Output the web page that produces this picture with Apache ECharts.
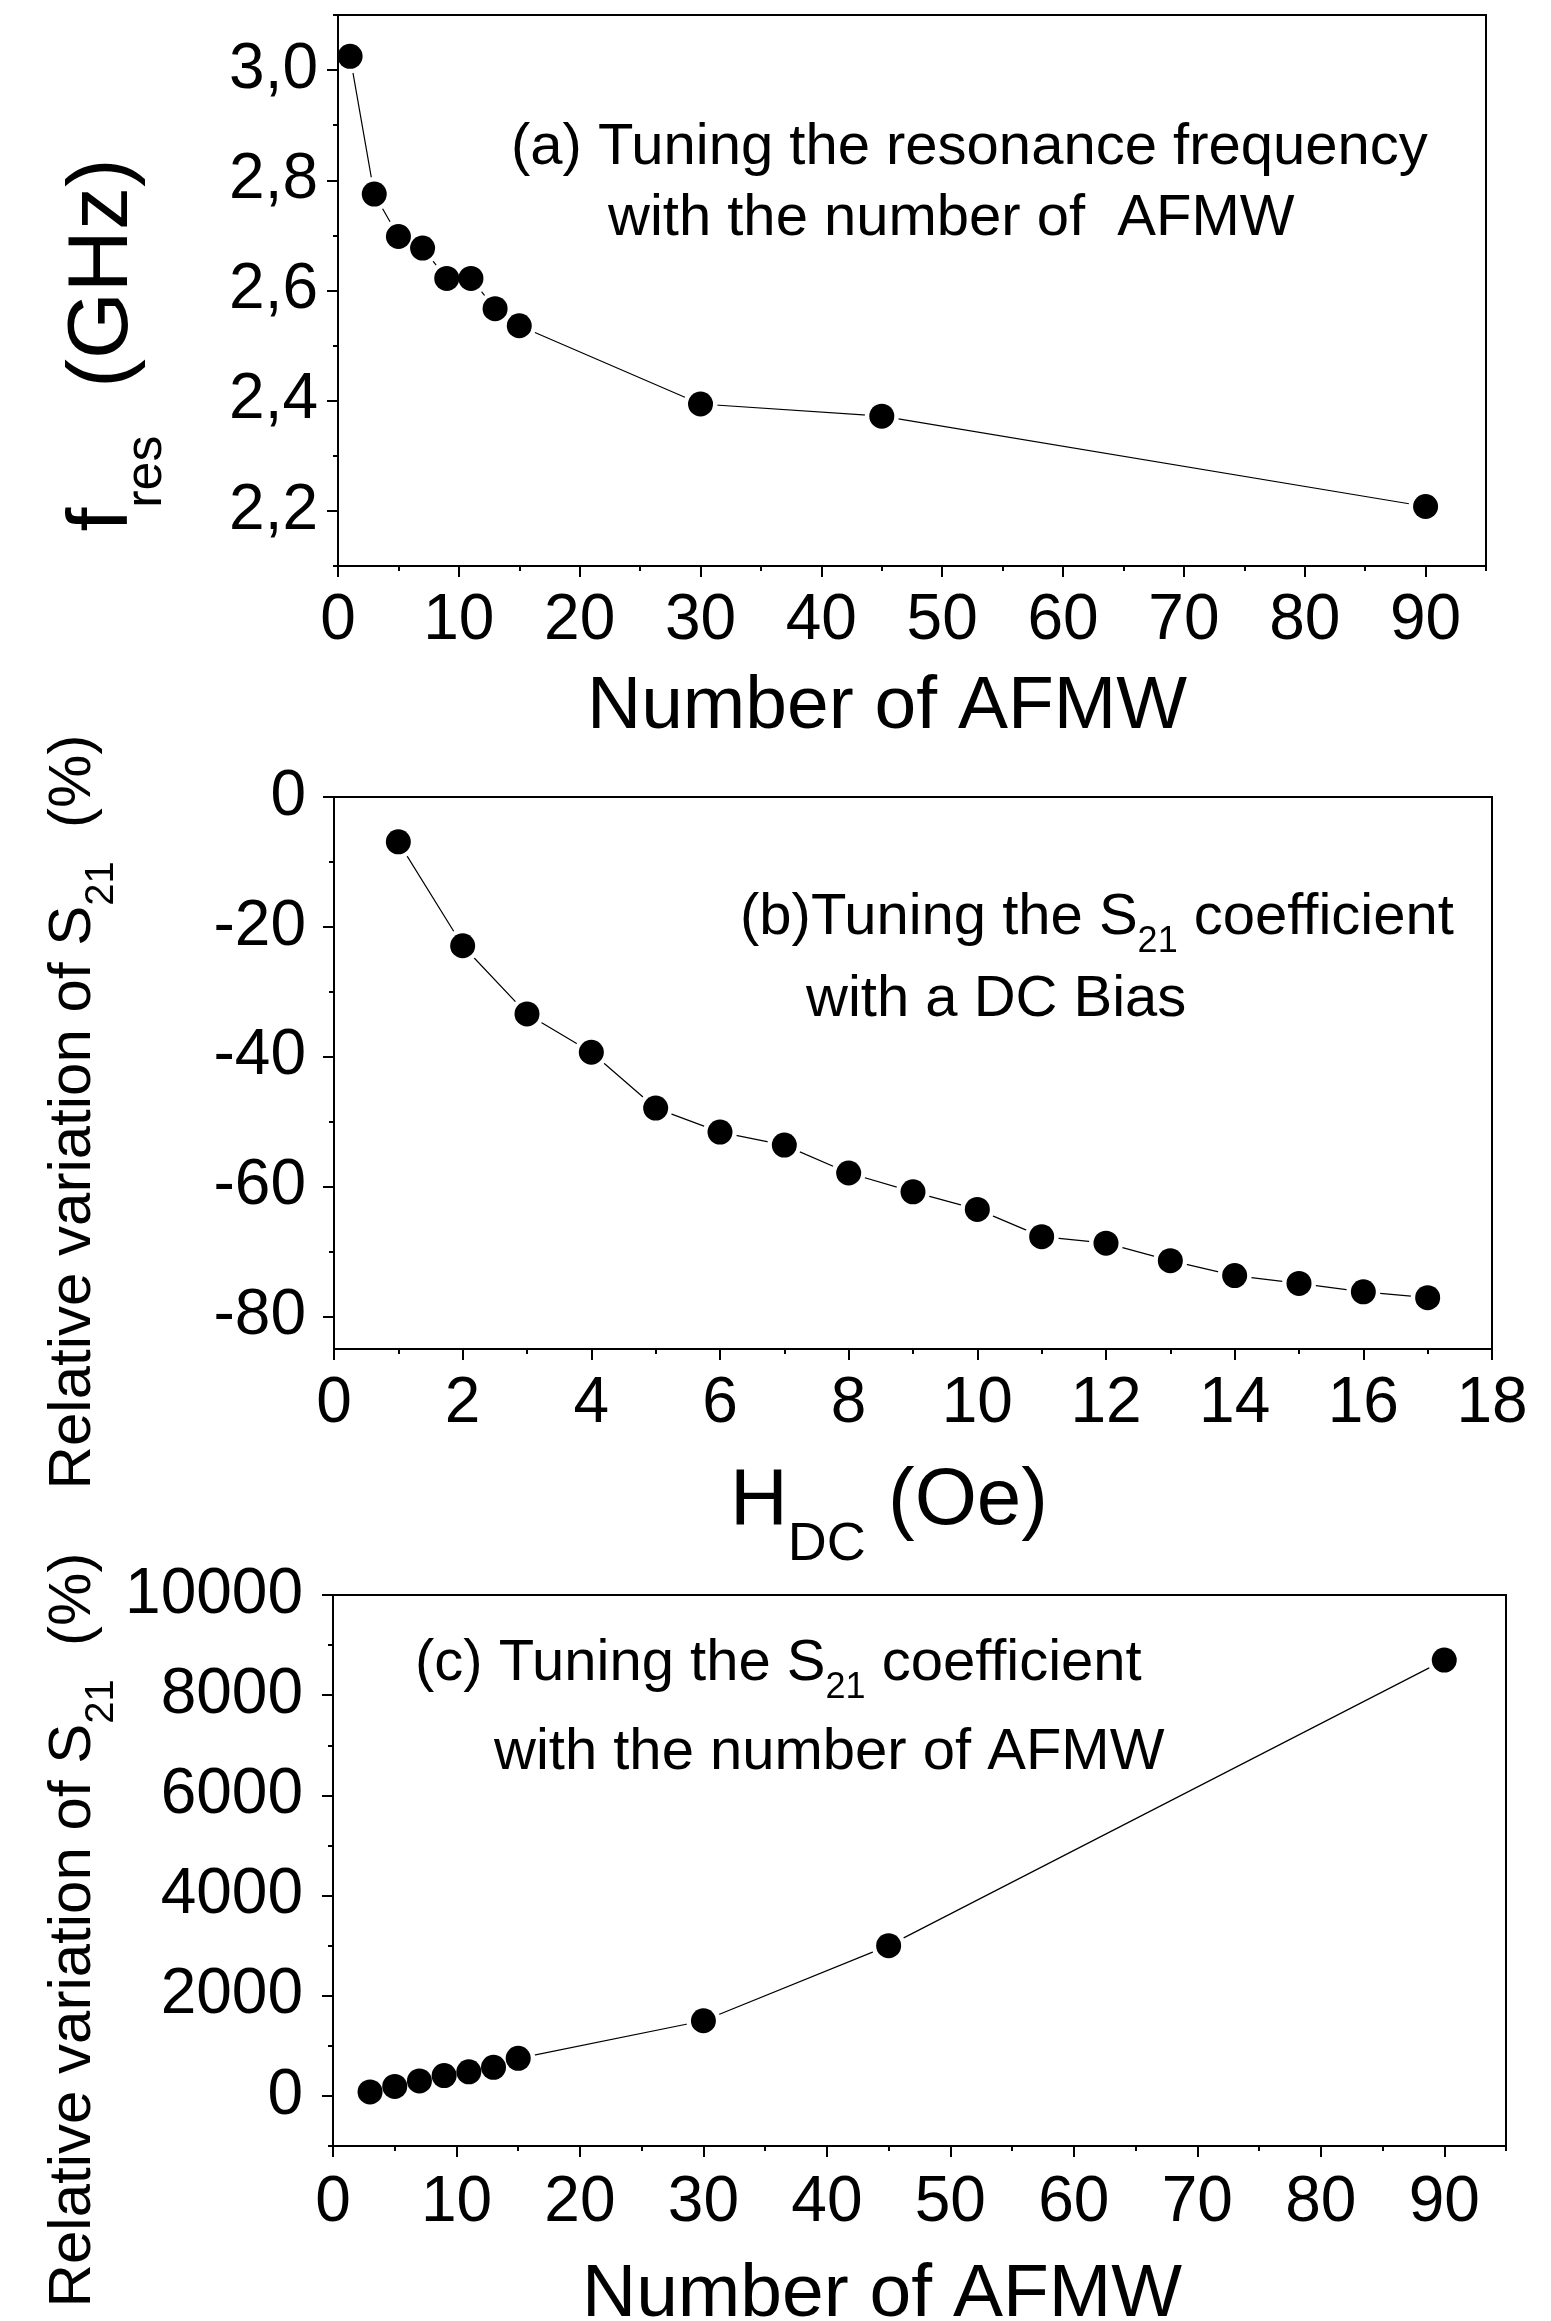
<!DOCTYPE html>
<html>
<head>
<meta charset="utf-8">
<script src="https://cdn.jsdelivr.net/npm/echarts@6/dist/echarts.min.js"></script>
<style>
  html, body { margin: 0; padding: 0; background: #fff; }
  #chart { width: 1551px; height: 2321px; }
</style>
</head>
<body>
<div id="chart"></div>
<script>
const FONT = "'Liberation Sans', Arial, sans-serif";

// (a) resonance frequency vs number of AFMW
const afmwA = [1, 3, 5, 7, 9, 11, 13, 15, 30, 45, 90];
const fresA = [3.025, 2.775, 2.698, 2.677, 2.622, 2.622, 2.567, 2.536, 2.394, 2.372, 2.208];
const fresTicks = [2.2, 2.4, 2.6, 2.8, 3.0];
const fresMinor = [2.1, 2.3, 2.5, 2.7, 2.9, 3.1];
const afmwTicks = [0, 10, 20, 30, 40, 50, 60, 70, 80, 90];
const afmwMinor = [5, 15, 25, 35, 45, 55, 65, 75, 85, 95];

// (b) S21 variation vs DC bias
const hdcB = [1, 2, 3, 4, 5, 6, 7, 8, 9, 10, 11, 12, 13, 14, 15, 16, 17];
const s21B = [-6.9, -22.9, -33.4, -39.3, -47.9, -51.6, -53.6, -57.9, -60.8, -63.5, -67.7, -68.7, -71.4, -73.7, -74.9, -76.2, -77.1];
const hdcTicks = [0, 2, 4, 6, 8, 10, 12, 14, 16, 18];
const hdcMinor = [1, 3, 5, 7, 9, 11, 13, 15, 17];
const s21BTicks = [0, -20, -40, -60, -80];
const s21BMinor = [-10, -30, -50, -70];

// (c) S21 variation vs number of AFMW
const afmwC = [3, 5, 7, 9, 11, 13, 15, 30, 45, 90];
const s21C = [80, 190, 300, 405, 480, 570, 750, 1500, 3000, 8700];
const s21CTicks = [0, 2000, 4000, 6000, 8000, 10000];
const s21CMinor = [-1000, 1000, 3000, 5000, 7000, 9000];

const black = "#000";

// main axis (line, long ticks, labels) + a second one only for the short ticks
function makeAxes(gridIndex, position, min, max, major, minor, formatter, margin) {
    return [
        {
            type: "value",
            gridIndex: gridIndex,
            position: position,
            min: min,
            max: max,
            z: 5,
            axisLine: { show: true, onZero: false, lineStyle: { color: black, width: 2 } },
            axisTick: { show: true, length: 11, customValues: major, lineStyle: { color: black, width: 2 } },
            axisLabel: {
                customValues: major,
                formatter: formatter,
                margin: margin,
                color: black,
                fontSize: 64,
                lineHeight: 64,
                fontFamily: FONT
            },
            splitLine: { show: false }
        },
        {
            type: "value",
            gridIndex: gridIndex,
            position: position,
            min: min,
            max: max,
            z: 5,
            axisLine: { show: false, onZero: false },
            axisTick: { show: true, length: 5, customValues: minor, lineStyle: { color: black, width: 2 } },
            axisLabel: { show: false },
            splitLine: { show: false }
        }
    ];
}

function plain(v) {
    return String(v);
}

function comma(v) {
    return v.toFixed(1).replace(".", ",");
}

// white circles under the markers leave a small gap between line and marker
function makeSeries(axisIndex, xs, ys) {
    const data = xs.map((x, i) => [x, ys[i]]);
    return [
        {
            type: "line",
            xAxisIndex: axisIndex,
            yAxisIndex: axisIndex,
            data: data,
            symbol: "circle",
            symbolSize: 34,
            itemStyle: { color: "#fff", borderWidth: 0, opacity: 1 },
            lineStyle: { color: black, width: 1.2 },
            emphasis: { disabled: true },
            silent: true,
            z: 2
        },
        {
            type: "scatter",
            xAxisIndex: axisIndex,
            yAxisIndex: axisIndex,
            data: data,
            symbol: "circle",
            symbolSize: 25,
            itemStyle: { color: black, opacity: 1 },
            emphasis: { disabled: true },
            silent: true,
            z: 3
        }
    ];
}

function richText(x, y, text, rich, opts) {
    const o = opts || {};
    return {
        type: "text",
        x: x,
        y: y,
        rotation: o.rotation || 0,
        silent: true,
        style: {
            text: text,
            rich: rich,
            fill: black,
            fontFamily: FONT,
            fontSize: o.fontSize || 58,
            align: o.align || "left",
            verticalAlign: "middle"
        }
    };
}

function subRich(mainSize, mainLh, subSize, subLh) {
    return {
        m: { fontSize: mainSize, lineHeight: mainLh, fontFamily: FONT, fill: black },
        s: { fontSize: subSize, lineHeight: subLh, fontFamily: FONT, fill: black, verticalAlign: "bottom" }
    };
}

const gridStyle = { show: true, borderColor: black, borderWidth: 2, backgroundColor: "transparent" };

const xAxes = [].concat(
    makeAxes(0, "bottom", 0, 95, afmwTicks, afmwMinor, plain, 23),
    makeAxes(1, "bottom", 0, 18, hdcTicks, hdcMinor, plain, 23),
    makeAxes(2, "bottom", 0, 95, afmwTicks, afmwMinor, plain, 25)
);
const yAxes = [].concat(
    makeAxes(0, "left", 2.1, 3.1, fresTicks, fresMinor, comma, 20),
    makeAxes(1, "left", -85, 0, s21BTicks, s21BMinor, plain, 28),
    makeAxes(2, "left", -1000, 10000, s21CTicks, s21CMinor, plain, 30)
);

const annRich = subRich(58, 84, 36, 36);
const titleRich = subRich(60, 98, 40, 40);

const graphics = [
    // panel (a)
    richText(511, 148, "{m|(a) Tuning the resonance frequency}", annRich),
    richText(608, 219, "{m|with the number of  AFMW}", annRich),
    richText(587, 707, "{m|Number of AFMW}", subRich(75, 75, 48, 48)),
    richText(103, 345, "{m|f}{s|res}{m|  (GHz)}", subRich(86, 140, 52, 52), { rotation: Math.PI / 2, align: "center" }),
    // panel (b)
    richText(740, 918, "{m|(b)Tuning the S}{s|21}{m| coefficient}", annRich),
    richText(806, 1000, "{m|with a DC Bias}", annRich),
    richText(730, 1502, "{m|H}{s|DC}{m| (Oe)}", subRich(80, 140, 54, 54)),
    richText(73, 1112, "{m|Relative variation of S}{s|21}{m|  (%)}", titleRich, { rotation: Math.PI / 2, align: "center" }),
    // panel (c)
    richText(415, 1664, "{m|(c) Tuning the S}{s|21}{m| coefficient}", annRich),
    richText(494, 1753, "{m|with the number of AFMW}", annRich),
    richText(582, 2295, "{m|Number of AFMW}", subRich(75, 75, 48, 48)),
    richText(73, 1930, "{m|Relative variation of S}{s|21}{m|  (%)}", titleRich, { rotation: Math.PI / 2, align: "center" })
];

const option = {
    animation: false,
    backgroundColor: "#fff",
    textStyle: { fontFamily: FONT, color: black },
    grid: [
        Object.assign({ left: 338, top: 15, width: 1148, height: 551 }, gridStyle),
        Object.assign({ left: 334, top: 797, width: 1158, height: 552 }, gridStyle),
        Object.assign({ left: 333, top: 1595, width: 1173, height: 551 }, gridStyle)
    ],
    xAxis: xAxes,
    yAxis: yAxes,
    series: [].concat(
        makeSeries(0, afmwA, fresA),
        makeSeries(2, hdcB, s21B),
        makeSeries(4, afmwC, s21C)
    ),
    graphic: graphics
};

const chart = echarts.init(document.getElementById("chart"), null, { renderer: "canvas" });
chart.setOption(option);
</script>
</body>
</html>
